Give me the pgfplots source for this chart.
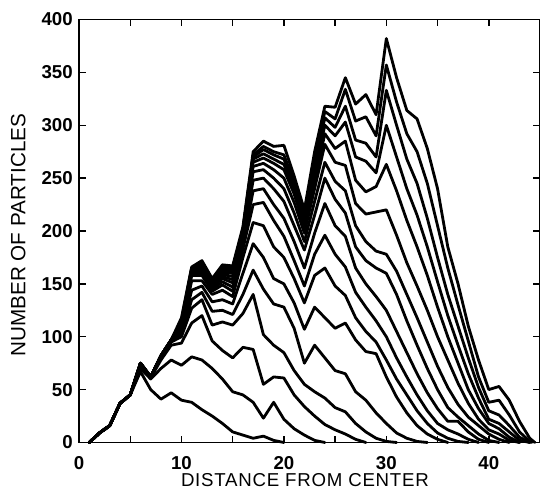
\documentclass[border=0pt]{standalone}
\usepackage{fontspec}
\setmainfont{Liberation Sans}
\usepackage{pgfplots}
\pgfplotsset{compat=1.18}
\pgfplotsset{curve/.style={black, line width=2.1pt, line join=round, line cap=round, mark=none}}

\begin{document}
\begin{tikzpicture}
\begin{axis}[
  scale only axis, width=345.75pt, height=317.25pt,
  xmin=0, xmax=45, ymin=0, ymax=400,
  xtick={0,5,...,45}, xticklabels={0,,10,,20,,30,,40,},
  ytick={0,50,...,400},
  tick align=inside, major tick length=5pt,
  axis line style={line width=1.1pt},
  tick style={line width=1.1pt, black},
  /pgf/number format/assume math mode=true,
  tick label style={font=\fontsize{14}{14}\selectfont\bfseries},
  xticklabel style={anchor=north, inner sep=0pt, yshift=-10.5pt},
  yticklabel style={anchor=east, inner sep=0pt, xshift=-4.5pt},
  xlabel={DISTANCE FROM CENTER},
  ylabel={NUMBER OF PARTICLES},
  xlabel style={font=\fontsize{14}{14}\selectfont\addfontfeature{LetterSpace=4}, at={(axis description cs:0.49,-0.089)}, anchor=center},
  ylabel style={font=\fontsize{15.5}{15.5}\selectfont, at={(axis description cs:-0.132,0.49)}, anchor=center},
  clip=false,
]
% c1
\addplot[curve] coordinates {(1,0)(2,9)(3,16)(4,37)(5,45)(6,67)(7,50)(8,41)(9,47)(10,40)(11,38)(12,31)(13,25)(14,18)(15,10)(16,7)(17,4)(18,6)(19,2)(20,0)};
% c2
\addplot[curve] coordinates {(1,0)(2,9)(3,16)(4,37)(5,45)(6,70)(7,60)(8,70)(9,78)(10,73)(11,81)(12,78)(13,70)(14,60)(15,48)(16,45)(17,38)(18,23)(19,38)(20,22)(21,13)(22,7)(23,2)(24,0)};
% c3
\addplot[curve] coordinates {(1,0)(2,9)(3,16)(4,37)(5,45)(6,72)(7,61)(8,78)(9,92)(10,94)(11,113)(12,120)(13,96)(14,87)(15,80)(16,90)(17,88)(18,55)(19,62)(20,61)(21,45)(22,34)(23,25)(24,17)(25,12)(26,8)(27,3)(28,0)};
% c4
\addplot[curve] coordinates {(1,0)(2,9)(3,16)(4,37)(5,45)(6,73)(7,61)(8,80)(9,95)(10,100)(11,127)(12,135)(13,111)(14,114)(15,111)(16,122)(17,140)(18,102)(19,92)(20,85)(21,68)(22,55)(23,48)(24,42)(25,33)(26,29)(27,18)(28,10)(29,4)(30,1)(31,0)};
% c5
\addplot[curve] coordinates {(1,0)(2,9)(3,16)(4,37)(5,45)(6,73)(7,62)(8,81)(9,96)(10,102)(11,135)(12,142)(13,124)(14,125)(15,121)(16,140)(17,163)(18,145)(19,131)(20,128)(21,108)(22,75)(23,92)(24,80)(25,68)(26,65)(27,48)(28,40)(29,28)(30,18)(31,9)(32,4)(33,1)(34,0)};
% c6
\addplot[curve] coordinates {(1,0)(2,9)(3,16)(4,37)(5,45)(6,74)(7,62)(8,81)(9,96)(10,104)(11,144)(12,148)(13,133)(14,135)(15,131)(16,160)(17,188)(18,175)(19,155)(20,150)(21,132)(22,107)(23,128)(24,118)(25,108)(26,113)(27,97)(28,86)(29,84)(30,62)(31,43)(32,28)(33,16)(34,8)(35,3)(36,0)};
% c7
\addplot[curve] coordinates {(1,0)(2,9)(3,16)(4,37)(5,45)(6,74)(7,62)(8,81)(9,96)(10,106)(11,153)(12,153)(13,140)(14,144)(15,138)(16,175)(17,208)(18,205)(19,185)(20,175)(21,155)(22,132)(23,158)(24,165)(25,148)(26,139)(27,118)(28,105)(29,95)(30,78)(31,60)(32,45)(33,30)(34,18)(35,9)(36,4)(37,1)(38,0)};
% c8
\addplot[curve] coordinates {(1,0)(2,9)(3,16)(4,37)(5,45)(6,74)(7,62)(8,82)(9,97)(10,107)(11,158)(12,158)(13,143)(14,149)(15,143)(16,183)(17,225)(18,227)(19,210)(20,195)(21,172)(22,148)(23,178)(24,196)(25,178)(26,166)(27,142)(28,128)(29,115)(30,100)(31,80)(32,62)(33,45)(34,30)(35,18)(36,12)(37,8)(38,3)(39,0)};
% c9
\addplot[curve] coordinates {(1,0)(2,9)(3,16)(4,37)(5,45)(6,75)(7,62)(8,82)(9,97)(10,108)(11,160)(12,161)(13,145)(14,152)(15,147)(16,188)(17,238)(18,240)(19,225)(20,212)(21,190)(22,165)(23,198)(24,226)(25,205)(26,195)(27,165)(28,150)(29,138)(30,125)(31,105)(32,85)(33,65)(34,47)(35,32)(36,20)(37,20)(38,10)(39,3)(40,0)};
% c10
\addplot[curve] coordinates {(1,0)(2,9)(3,16)(4,37)(5,45)(6,75)(7,62)(8,82)(9,97)(10,109)(11,161)(12,163)(13,147)(14,155)(15,151)(16,192)(17,248)(18,250)(19,240)(20,228)(21,205)(22,182)(23,215)(24,250)(25,230)(26,217)(27,185)(28,172)(29,165)(30,160)(31,140)(32,115)(33,92)(34,70)(35,50)(36,33)(37,24)(38,16)(39,8)(40,2)(41,0)};
% c11
\addplot[curve] coordinates {(1,0)(2,9)(3,16)(4,37)(5,45)(6,75)(7,62)(8,82)(9,97)(10,110)(11,162)(12,165)(13,148)(14,157)(15,154)(16,195)(17,256)(18,258)(19,250)(20,240)(21,217)(22,190)(23,228)(24,265)(25,247)(26,238)(27,205)(28,190)(29,181)(30,178)(31,162)(32,140)(33,118)(34,95)(35,72)(36,52)(37,36)(38,24)(39,16)(40,8)(41,3)(42,0)};
% c12
\addplot[curve] coordinates {(1,0)(2,9)(3,16)(4,37)(5,45)(6,75)(7,62)(8,82)(9,97)(10,111)(11,163)(12,166)(13,149)(14,159)(15,157)(16,197)(17,261)(18,264)(19,258)(20,250)(21,227)(22,198)(23,240)(24,282)(25,265)(26,262)(27,226)(28,216)(29,218)(30,220)(31,196)(32,170)(33,148)(34,125)(35,100)(36,78)(37,56)(38,37)(39,22)(40,12)(41,8)(42,2)(43,0)};
% c13
\addplot[curve] coordinates {(1,0)(2,9)(3,16)(4,37)(5,45)(6,75)(7,62)(8,82)(9,97)(10,112)(11,164)(12,167)(13,150)(14,161)(15,160)(16,199)(17,265)(18,269)(19,264)(20,258)(21,235)(22,204)(23,248)(24,292)(25,278)(26,285)(27,248)(28,237)(29,242)(30,263)(31,238)(32,210)(33,185)(34,158)(35,128)(36,100)(37,75)(38,50)(39,32)(40,18)(41,13)(42,5)(43,0)};
% c14
\addplot[curve] coordinates {(1,0)(2,9)(3,16)(4,37)(5,45)(6,75)(7,62)(8,82)(9,97)(10,113)(11,164)(12,168)(13,151)(14,163)(15,162)(16,200)(17,268)(18,273)(19,268)(20,263)(21,240)(22,209)(23,255)(24,300)(25,290)(26,303)(27,270)(28,266)(29,255)(30,300)(31,270)(32,240)(33,215)(34,185)(35,152)(36,120)(37,92)(38,65)(39,42)(40,22)(41,18)(42,10)(43,2)(44,0)};
% c15
\addplot[curve] coordinates {(1,0)(2,9)(3,16)(4,37)(5,45)(6,75)(7,62)(8,82)(9,97)(10,114)(11,165)(12,169)(13,152)(14,164)(15,164)(16,201)(17,270)(18,277)(19,272)(20,268)(21,244)(22,213)(23,262)(24,307)(25,298)(26,318)(27,286)(28,283)(29,270)(30,333)(31,300)(32,268)(33,245)(34,212)(35,175)(36,140)(37,110)(38,80)(39,52)(40,30)(41,26)(42,16)(43,5)(44,0)};
% c16
\addplot[curve] coordinates {(1,0)(2,9)(3,16)(4,37)(5,45)(6,75)(7,62)(8,82)(9,97)(10,115)(11,165)(12,170)(13,153)(14,166)(15,165)(16,202)(17,272)(18,280)(19,275)(20,272)(21,247)(22,217)(23,268)(24,313)(25,306)(26,334)(27,304)(28,308)(29,290)(30,357)(31,322)(32,292)(33,275)(34,245)(35,205)(36,165)(37,130)(38,96)(39,62)(40,38)(41,40)(42,26)(43,10)(44,1)(44.2,0)};
% c17
\addplot[curve] coordinates {(1,0)(2,9)(3,16)(4,37)(5,45)(6,75)(7,62)(8,82)(9,97)(10,118)(11,166)(12,172)(13,155)(14,168)(15,167)(16,204)(17,275)(18,285)(19,280)(20,281)(21,252)(22,220)(23,275)(24,318)(25,317)(26,345)(27,320)(28,329)(29,310)(30,382)(31,345)(32,314)(33,306)(34,278)(35,240)(36,185)(37,150)(38,110)(39,78)(40,50)(41,53)(42,40)(43,20)(44,4)(44.5,0)};
\coordinate (bbSW) at (axis description cs:-0.1714,-0.1147);
\coordinate (bbNE) at (axis description cs:1.0,1.0461);
\end{axis}
\pgfresetboundingbox
\path (bbSW) rectangle (bbNE);
\end{tikzpicture}
\end{document}
